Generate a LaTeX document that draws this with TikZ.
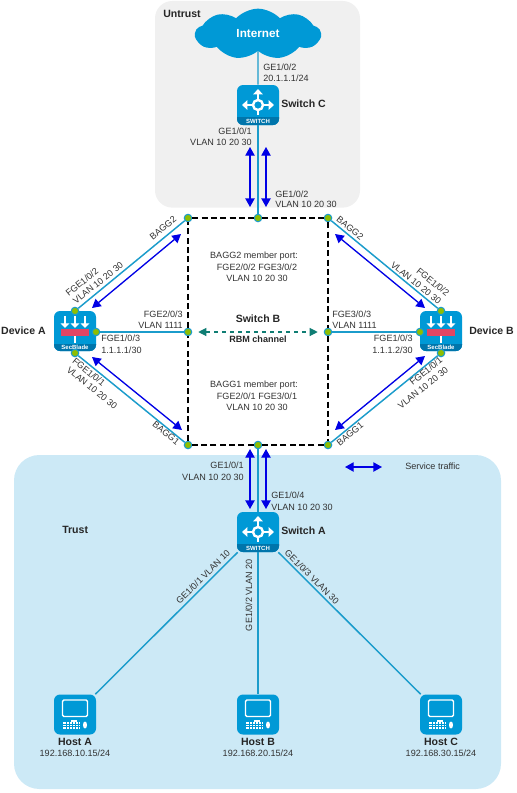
\documentclass[tikz,border=0pt]{standalone}
\usepackage{fontspec}
\setmainfont{Liberation Sans}
\usetikzlibrary{shapes.symbols, arrows.meta}
\definecolor{iconblue}{RGB}{0,153,214}
\definecolor{stripblue}{RGB}{0,117,171}
\definecolor{linkblue}{RGB}{27,156,203}
\definecolor{portgreen}{RGB}{143,190,0}
\definecolor{trustbg}{RGB}{204,233,246}
\definecolor{untrustbg}{RGB}{240,240,240}
\definecolor{rbmteal}{RGB}{15,125,115}
\definecolor{labelgray}{RGB}{50,50,50}
\definecolor{barred}{RGB}{225,70,100}

% Icon insides, drawn round the centre of a node
\newcommand{\stripbar}[1]{
    \fill[stripblue] (-21,#1) [sharp corners] -- (21,#1) [rounded corners=4.5pt] -- (21,20) -- (-21,20) [sharp corners] -- cycle;
}
\newcommand{\switchmark}[2]{
    \begin{scope}[shift={(#1)}]
        \stripbar{12}
        \foreach \tx/\ty in {0/-16, -16/0, 16/0}
            \draw[white, line width=1.8pt, -{Triangle[length=4pt, width=7pt]}] (0.3*\tx,0.3*\ty) -- (\tx,\ty);
        \draw[white, line width=1.8pt] (0,0) circle (5);
        \draw[white, line width=1.2pt] (0,6) -- (0,10);
        \node[font=\fontsize{4.5}{5}\selectfont\bfseries, text=white, inner sep=0pt] at (0,16) {#2};
    \end{scope}
}
\newcommand{\blademark}[1]{
    \begin{scope}[shift={(#1)}]
        \stripbar{13}
        \foreach \tx in {-10,0,10}
            \draw[white, line width=1.8pt, -{Triangle[length=3.5pt, width=6.5pt]}] (\tx,-15) -- (\tx,-3);
        \fill[barred] (-14,-2) rectangle (14,5);
        \draw[white, line width=1.2pt] (0,5) -- (0,12);
        \node[font=\fontsize{4.5}{5}\selectfont\bfseries, text=white, inner sep=0pt] at (0,16.5) {SecBlade};
    \end{scope}
}
\newcommand{\hostmark}[1]{
    \begin{scope}[shift={(#1)}]
        \draw[white, line width=1pt, rounded corners=1pt] (-12.5,-14.5) rectangle (12.5,2);
        \fill[white] (-12,7) rectangle (5,14.5);
        \fill[white] (-4,5) rectangle (2,7);
        \foreach \gx in {-9,-6,-3,0,3}
            \draw[iconblue, line width=0.3pt] (\gx,7) -- (\gx,14.5);
        \foreach \gy in {9.5,12}
            \draw[iconblue, line width=0.3pt] (-12,\gy) -- (5,\gy);
        \fill[white] (10,10.5) ellipse (2 and 3.5);
    \end{scope}
}

\begin{document}
\begin{tikzpicture}[
    x=0.75pt, y=-0.75pt,
    icon/.style={rectangle, fill=iconblue, rounded corners=4.5pt, minimum width=31.5pt, minimum height=30pt, inner sep=0pt},
    port/.style={circle, fill=portgreen, draw=linkblue, line width=0.8pt, minimum size=5.6pt, inner sep=0pt},
    lbl/.style={font=\fontsize{6.8}{8}\selectfont, text=labelgray, inner sep=0pt},
    boldlbl/.style={font=\fontsize{7.9}{9}\selectfont\bfseries, text=black!85, inner sep=0pt},
    link/.style={draw=linkblue, line width=1.1pt},
    member/.style={draw=black, line width=1.3pt, dash pattern=on 4.5pt off 2.5pt},
    traffic/.style={{Triangle[length=6.5pt, width=7pt]}-{Triangle[length=6.5pt, width=7pt]}, blue!90!black, line width=1pt}
]
    \useasboundingbox (0,0) rectangle (517,793);

    % Zones
    \node[fill=untrustbg, rounded corners=13pt, minimum width=153.75pt, minimum height=155pt, inner sep=0pt] (untrust) at (257.5,104.3) {};
    \node[fill=trustbg, rounded corners=19pt, minimum width=365.25pt, minimum height=250.5pt, inner sep=0pt] (trust) at (257.5,622) {};
    \node[boldlbl, anchor=west] (untrustlbl) at (163,14) {Untrust};
    \node[boldlbl, anchor=west] (trustlbl) at (62,530) {Trust};

    % Internet and switches
    \node[cloud, cloud puffs=9, cloud puff arc=95, aspect=2.9, fill=iconblue, minimum width=94pt, minimum height=38pt, inner sep=0pt, text=white, font=\fontsize{8.8}{10}\selectfont\bfseries] (internet) at (258,34) {Internet};
    \node[icon] (swc) at (258,105) {};
    \node[icon] (swa) at (258,532) {};
    \switchmark{swc}{SWITCH}
    \switchmark{swa}{SWITCH}

    % Devices
    \node[icon] (deva) at (75,331) {};
    \node[icon] (devb) at (441,331) {};
    \blademark{deva}
    \blademark{devb}

    % Hosts
    \node[icon] (hosta) at (75,714.5) {};
    \node[icon] (hostb) at (258,714.5) {};
    \node[icon] (hostc) at (441,714.5) {};
    \hostmark{hosta}
    \hostmark{hostb}
    \hostmark{hostc}

    % Ports of Switch B
    \node[port] (ptl) at (188,218) {};
    \node[port] (ptm) at (258,218) {};
    \node[port] (ptr) at (328,218) {};
    \node[port] (pml) at (188,332) {};
    \node[port] (pmr) at (328,332) {};
    \node[port] (pbl) at (188,445) {};
    \node[port] (pbm) at (258,445) {};
    \node[port] (pbr) at (328,445) {};

    % Ports of the devices
    \node[port] (pat) at (75,311) {};
    \node[port] (pam) at (96,332) {};
    \node[port] (pab) at (75,353) {};
    \node[port] (pbt) at (441,311) {};
    \node[port] (pbmm) at (420,332) {};
    \node[port] (pbb) at (441,353) {};

    % Switch B outline
    \draw[member] (ptl) -- (ptm);
    \draw[member] (ptm) -- (ptr);
    \draw[member] (ptr) -- (pmr);
    \draw[member] (pmr) -- (pbr);
    \draw[member] (pbr) -- (pbm);
    \draw[member] (pbm) -- (pbl);
    \draw[member] (pbl) -- (pml);
    \draw[member] (pml) -- (ptl);

    % Connections
    \draw[link] (internet) -- (swc);
    \draw[link] (swc) -- (ptm);
    \draw[link] (pat) -- (ptl);
    \draw[link] (pam) -- (pml);
    \draw[link] (pab) -- (pbl);
    \draw[link] (pbt) -- (ptr);
    \draw[link] (pbmm) -- (pmr);
    \draw[link] (pbb) -- (pbr);
    \draw[link] (pbm) -- (swa);
    \draw[link] (swa) -- (hosta);
    \draw[link] (swa) -- (hostb);
    \draw[link] (swa) -- (hostc);
    \draw[{Triangle[length=6pt, width=6pt]}-{Triangle[length=6pt, width=6pt]}, rbmteal, line width=0.8pt, dashed, shorten >=4.5pt, shorten <=4.5pt] (pml) -- (pmr);

    % Service traffic
    \coordinate (upa) at (250,147);
    \coordinate (upb) at (250,207);
    \coordinate (upc) at (266,147);
    \coordinate (upd) at (266,207);
    \coordinate (lowa) at (250,449);
    \coordinate (lowb) at (250,509);
    \coordinate (lowc) at (266,449);
    \coordinate (lowd) at (266,509);
    \coordinate (ata) at (92,308);
    \coordinate (atb) at (181,234);
    \coordinate (aba) at (92,357);
    \coordinate (abb) at (182,430);
    \coordinate (bta) at (335,234);
    \coordinate (btb) at (425,308);
    \coordinate (bba) at (335,430);
    \coordinate (bbb) at (425,356);
    \coordinate (keya) at (345,467);
    \coordinate (keyb) at (382,467);
    \draw[traffic] (upa) -- (upb);
    \draw[traffic] (upc) -- (upd);
    \draw[traffic] (lowa) -- (lowb);
    \draw[traffic] (lowc) -- (lowd);
    \draw[traffic] (ata) -- (atb);
    \draw[traffic] (aba) -- (abb);
    \draw[traffic] (bta) -- (btb);
    \draw[traffic] (bba) -- (bbb);
    \draw[traffic] (keya) -- (keyb);
    \node[lbl, anchor=west] (keylbl) at (405,466) {Service traffic};

    % Names
    \node[boldlbl, anchor=west] (swclbl) at (281,104) {Switch C};
    \node[boldlbl, anchor=west] (swalbl) at (281,531) {Switch A};
    \node[boldlbl, anchor=east] (devalbl) at (46,331) {Device A};
    \node[boldlbl, anchor=west] (devblbl) at (469,331) {Device B};
    \node[boldlbl] (hostalbl) at (75,742) {Host A};
    \node[boldlbl] (hostblbl) at (258,742) {Host B};
    \node[boldlbl] (hostclbl) at (441,742) {Host C};
    \node[lbl] (hostaip) at (75,753) {192.168.10.15/24};
    \node[lbl] (hostbip) at (258,753) {192.168.20.15/24};
    \node[lbl] (hostcip) at (441,753) {192.168.30.15/24};

    % Untrust labels
    \node[lbl, anchor=west] (l1) at (263,67) {GE1/0/2};
    \node[lbl, anchor=west] (l2) at (263,78) {20.1.1.1/24};
    \node[lbl, anchor=east] (l3) at (252,131) {GE1/0/1};
    \node[lbl, anchor=east] (l4) at (252,142) {VLAN 10 20 30};
    \node[lbl, anchor=west] (l5) at (275,194) {GE1/0/2};
    \node[lbl, anchor=west] (l6) at (275,204) {VLAN 10 20 30};

    % Switch B labels
    \node[lbl] (m1) at (254,256) {BAGG2 member port:};
    \node[lbl] (m2) at (257,267) {FGE2/0/2 FGE3/0/2};
    \node[lbl] (m3) at (257,278) {VLAN 10 20 30};
    \node[boldlbl] (swblbl) at (258,319) {Switch B};
    \node[boldlbl, font=\fontsize{6.8}{8}\selectfont\bfseries] (rbmlbl) at (258,339) {RBM channel};
    \node[lbl] (m4) at (254,385) {BAGG1 member port:};
    \node[lbl] (m5) at (257,396) {FGE2/0/1 FGE3/0/1};
    \node[lbl] (m6) at (257,407) {VLAN 10 20 30};

    % Device A labels
    \node[lbl, rotate=39] (a1) at (163,228) {BAGG2};
    \node[lbl, rotate=39] (a2) at (82,282) {FGE1/0/2};
    \node[lbl, rotate=39] (a3) at (98,283) {VLAN 10 20 30};
    \node[lbl, anchor=east] (a4) at (183,314) {FGE2/0/3};
    \node[lbl, anchor=east] (a5) at (183,325) {VLAN 1111};
    \node[lbl, anchor=west] (a6) at (101,338) {FGE1/0/3};
    \node[lbl, anchor=west] (a7) at (101,350) {1.1.1.1/30};
    \node[lbl, rotate=-39] (a8) at (89,372) {FGE1/0/1};
    \node[lbl, rotate=-39] (a9) at (92,388) {VLAN 10 20 30};
    \node[lbl, rotate=-39] (a10) at (166,433) {BAGG1};

    % Device B labels
    \node[lbl, rotate=-39] (b1) at (350,228) {BAGG2};
    \node[lbl, rotate=-39] (b2) at (433,282) {FGE1/0/2};
    \node[lbl, rotate=-39] (b3) at (416,283) {VLAN 10 20 30};
    \node[lbl, anchor=west] (b4) at (332,314) {FGE3/0/3};
    \node[lbl, anchor=west] (b5) at (332,325) {VLAN 1111};
    \node[lbl, anchor=east] (b6) at (413,338) {FGE1/0/3};
    \node[lbl, anchor=east] (b7) at (413,350) {1.1.1.2/30};
    \node[lbl, rotate=39] (b8) at (426,371) {FGE1/0/1};
    \node[lbl, rotate=39] (b9) at (423,388) {VLAN 10 20 30};
    \node[lbl, rotate=39] (b10) at (350,434) {BAGG1};

    % Trust labels
    \node[lbl, anchor=east] (t1) at (244,465) {GE1/0/1};
    \node[lbl, anchor=east] (t2) at (244,477) {VLAN 10 20 30};
    \node[lbl, anchor=west] (t3) at (271,495) {GE1/0/4};
    \node[lbl, anchor=west] (t4) at (271,507) {VLAN 10 20 30};
    \node[lbl, rotate=45] (t5) at (203,577) {GE1/0/1 VLAN 10};
    \node[lbl, rotate=90] (t6) at (249,595) {GE1/0/2 VLAN 20};
    \node[lbl, rotate=-45] (t7) at (312,577) {GE1/0/3 VLAN 30};
\end{tikzpicture}
\end{document}
